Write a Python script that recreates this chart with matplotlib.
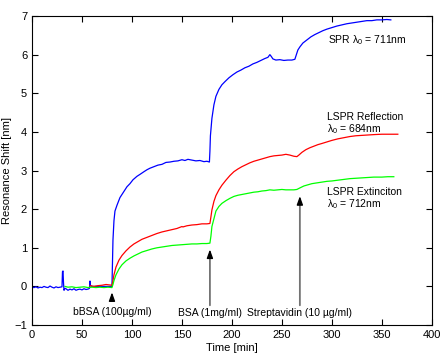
import numpy as np
import matplotlib
matplotlib.use('Agg')
import matplotlib.pyplot as plt

plt.rcParams['font.family'] = ['Liberation Sans', 'DejaVu Sans']
plt.rcParams['mathtext.fontset'] = 'custom'
plt.rcParams['mathtext.rm'] = 'Liberation Sans'

# SPR (blue)
spr_t = [0, 2, 4, 6, 8, 10, 12, 14, 16, 18, 20, 22, 24, 26, 28, 30, 30.5, 31, 31.5, 32, 33,
         34, 36, 38, 40, 42, 44, 46, 48, 50, 52, 54, 56, 57.5, 58, 58.5, 60, 64, 70, 76, 80,
         80.5, 81, 82, 83, 85, 88, 91, 95, 98, 101, 105, 108, 112, 115, 118, 122, 126, 130,
         134, 138, 142, 146, 150, 153, 156, 160, 164, 168, 172, 175, 177.5, 178, 178.5, 180,
         182, 184, 187, 190, 193, 197, 201, 205, 209, 213, 217, 221, 225, 229, 233, 236, 238,
         239.5, 241, 244, 248, 252, 256, 260, 263, 264.5, 266, 268, 271, 275, 279, 283, 287,
         291, 295, 300, 305, 310, 315, 320, 325, 330, 335, 340, 345, 350, 355, 359]
spr_v = [-0.02, -0.03, -0.01, -0.04, -0.02, -0.03, 0.00, -0.02, -0.03, 0.01, -0.02, -0.04,
         -0.01, -0.03, -0.02, -0.01, 0.38, 0.40, 0.10, -0.10, -0.05,
         -0.06, -0.10, -0.07, -0.09, -0.06, -0.10, -0.08, -0.07, -0.09, -0.06, -0.08, -0.07,
         -0.05, 0.14, 0.02, 0.0, 0.0, 0.0, 0.0, 0.0,
         0.6, 1.2, 1.7, 1.95, 2.1, 2.3, 2.42, 2.58, 2.66, 2.76, 2.85, 2.90, 2.97, 3.02, 3.06,
         3.10, 3.14, 3.16, 3.21, 3.22, 3.24, 3.25, 3.28, 3.26, 3.29, 3.27, 3.25, 3.26, 3.23,
         3.24, 3.22, 3.5, 3.9, 4.35, 4.7, 4.92, 5.1, 5.22, 5.3, 5.4, 5.48, 5.55, 5.6, 5.66,
         5.7, 5.76, 5.8, 5.85, 5.9, 5.93, 6.0, 5.95, 5.89, 5.86, 5.87, 5.85, 5.86, 5.86, 5.88,
         6.0, 6.12, 6.2, 6.3, 6.38, 6.46, 6.52, 6.57, 6.62, 6.66, 6.7, 6.74, 6.77, 6.8, 6.82,
         6.84, 6.86, 6.88, 6.88, 6.9, 6.9, 6.91, 6.9]

# LSPR reflection (red)
refl_t = [58, 62, 66, 70, 74, 77, 80, 81, 82, 84, 87, 90, 94, 98, 102, 106, 110, 115, 120,
          125, 130, 135, 140, 145, 150, 151, 155, 160, 165, 170, 175, 178, 179, 180, 182, 184,
          187, 190, 194, 198, 202, 206, 210, 214, 218, 222, 226, 230, 234, 238, 242, 246, 250,
          254, 258, 262, 265, 267, 270, 274, 278, 282, 286, 290, 295, 300, 306, 312, 318, 324,
          330, 336, 342, 350, 358, 366]
refl_v = [0.02, 0.0, 0.02, 0.03, 0.05, 0.04, 0.03, 0.15, 0.3, 0.5, 0.68, 0.8, 0.92, 1.02, 1.1,
          1.16, 1.22, 1.27, 1.32, 1.37, 1.41, 1.44, 1.47, 1.5, 1.55, 1.54, 1.57, 1.59, 1.6,
          1.62, 1.62, 1.63, 1.8, 1.98, 2.2, 2.35, 2.5, 2.62, 2.75, 2.87, 2.97, 3.04, 3.1, 3.15,
          3.2, 3.24, 3.27, 3.3, 3.33, 3.36, 3.38, 3.39, 3.4, 3.42, 3.4, 3.37, 3.36, 3.40, 3.47,
          3.54, 3.59, 3.63, 3.67, 3.7, 3.74, 3.78, 3.82, 3.85, 3.88, 3.9, 3.91, 3.92, 3.93,
          3.94, 3.94, 3.94]

# LSPR extinction (green)
ext_t = [33, 36, 40, 44, 48, 52, 56, 60, 64, 68, 72, 76, 80, 81, 82, 84, 87, 90, 94, 98, 102,
         106, 110, 115, 120, 125, 130, 135, 140, 145, 150, 155, 160, 165, 170, 175, 178, 179,
         180, 182, 184, 187, 190, 194, 198, 202, 206, 210, 214, 218, 222, 226, 230, 234, 238,
         242, 246, 250, 254, 258, 262, 265, 268, 272, 276, 280, 285, 290, 295, 300, 306, 312,
         318, 324, 330, 336, 342, 350, 356, 362]
ext_v = [0.0, -0.02, -0.01, -0.03, -0.02, -0.01, -0.03, -0.02, -0.03, -0.02, -0.03, -0.02,
         -0.03, 0.05, 0.15, 0.3, 0.45, 0.56, 0.66, 0.73, 0.79, 0.84, 0.89, 0.93, 0.97, 1.0,
         1.02, 1.04, 1.06, 1.07, 1.08, 1.09, 1.1, 1.1, 1.11, 1.11, 1.12, 1.3, 1.55, 1.75, 1.95,
         2.07, 2.15, 2.22, 2.28, 2.33, 2.36, 2.38, 2.4, 2.42, 2.44, 2.45, 2.47, 2.48, 2.5, 2.49,
         2.5, 2.51, 2.5, 2.5, 2.5, 2.51, 2.55, 2.6, 2.63, 2.66, 2.68, 2.7, 2.72, 2.73, 2.75,
         2.77, 2.79, 2.8, 2.81, 2.82, 2.83, 2.83, 2.84, 2.84]

fig = plt.figure(figsize=(4.47, 3.64), dpi=100)
ax = fig.add_axes([0.0716, 0.107, 0.8944, 0.849])

ax.plot(spr_t, spr_v, color='#0000ff', lw=0.9)
ax.plot(refl_t, refl_v, color='#ff0000', lw=0.9)
ax.plot(ext_t, ext_v, color='#00ff00', lw=0.9)

ax.set_xlim(0, 400)
ax.set_ylim(-1, 7)
ax.set_xticks(np.arange(0, 401, 50))
ax.set_yticks(np.arange(-1, 8, 1))
ax.tick_params(direction='in', top=True, right=True, labelsize=8, length=4, width=0.8)
for s in ax.spines.values():
    s.set_linewidth(0.8)
ax.set_xlabel('Time [min]', fontsize=8, labelpad=2)
ax.set_ylabel('Resonance Shift [nm]', fontsize=8, labelpad=2)

fs = 7.5
ax.text(296, 6.38, 'SPR λ$_0$ = 711nm', fontsize=fs, va='center')
ax.text(295, 4.39, 'LSPR Reflection', fontsize=fs, va='center')
ax.text(295, 4.08, 'λ$_0$ = 684nm', fontsize=fs, va='center')
ax.text(295, 2.45, 'LSPR Extinciton', fontsize=fs, va='center')
ax.text(295, 2.14, 'λ$_0$ = 712nm', fontsize=fs, va='center')

ax.text(80, -0.67, 'bBSA (100µg/ml)', fontsize=fs, ha='center', va='center')
ax.text(178, -0.7, 'BSA (1mg/ml)', fontsize=fs, ha='center', va='center')
ax.text(267.5, -0.7, 'Streptavidin (10 µg/ml)', fontsize=fs, ha='center', va='center')

head = dict(arrowstyle='-|>,head_width=0.18,head_length=0.5', color='k', lw=1.0)
# short arrow for bBSA
ax.annotate('', xy=(80, -0.08), xytext=(80, -0.44), arrowprops=head)
# long arrows: grey shaft, black head
for x, ytip in [(178, 1.03), (268, 2.41)]:
    ax.annotate('', xy=(x, ytip - 0.1), xytext=(x, -0.56),
                arrowprops=dict(arrowstyle='-', color='0.45', lw=1.3))
    ax.annotate('', xy=(x, ytip), xytext=(x, ytip - 0.3), arrowprops=head)

fig.savefig('out.png', dpi=100)
